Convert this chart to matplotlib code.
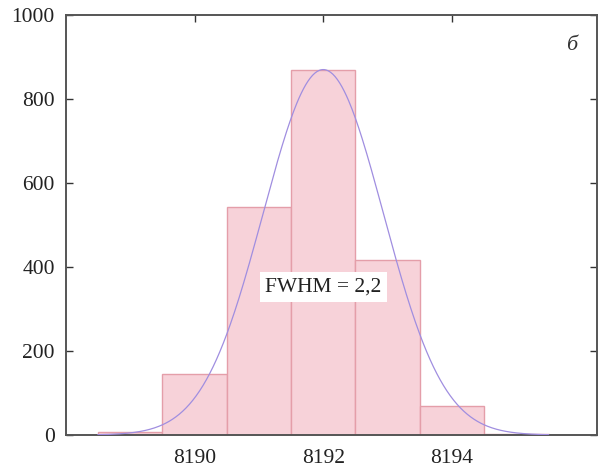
import numpy as np
import matplotlib
matplotlib.use("Agg")
import matplotlib.pyplot as plt

# Histogram of channel positions
channels = [8189, 8190, 8191, 8192, 8193, 8194, 8195]
counts = [7, 145, 543, 870, 417, 68, 3]

# Gaussian fit parameters
fit_center = 8192.0
fit_peak = 870
fit_fwhm = 2.2

x_ticks = [8190, 8192, 8194]
y_ticks = [0, 200, 400, 600, 800, 1000]

plt.rcParams['font.family'] = ['Liberation Serif', 'DejaVu Serif']

fig = plt.figure(figsize=(5.98, 4.68), dpi=100)
ax = fig.add_axes([0.110, 0.0705, 0.888, 0.8975])

ax.bar(channels, counts, width=1.0, color='#f7d2d9', edgecolor='#e49ea9',
       linewidth=1.0, zorder=2)

sigma = fit_fwhm / (2 * np.sqrt(2 * np.log(2)))
xs = np.linspace(8188.5, 8195.5, 400)
ys = fit_peak * np.exp(-0.5 * ((xs - fit_center) / sigma) ** 2)
ax.plot(xs, ys, color='#a08ee0', linewidth=0.9, zorder=3)

ax.text(8192, 352, 'FWHM = 2,2', ha='center', va='center', fontsize=15.5,
        color='#222222', zorder=4,
        bbox=dict(facecolor='white', edgecolor='none', pad=4))

ax.text(0.952, 0.928, 'б', transform=ax.transAxes, ha='center', va='center',
        fontsize=16, style='italic', color='#333333')

ax.set_xlim(8188.0, 8196.25)
ax.set_ylim(0, 1000)
ax.set_xticks(x_ticks)
ax.set_yticks(y_ticks)
ax.set_xticklabels([str(v) for v in x_ticks])
ax.set_yticklabels([str(v) for v in y_ticks])

ax.tick_params(axis='both', direction='in', labelsize=15.5, colors='#333333',
               labelcolor='#222222', length=5, width=1.0)
ax.tick_params(axis='x', bottom=False, top=True, pad=10)
ax.tick_params(axis='y', left=True, right=True, pad=8)

for s in ax.spines.values():
    s.set_color('#555555')
    s.set_linewidth(1.4)

fig.savefig('out.png', dpi=100)
